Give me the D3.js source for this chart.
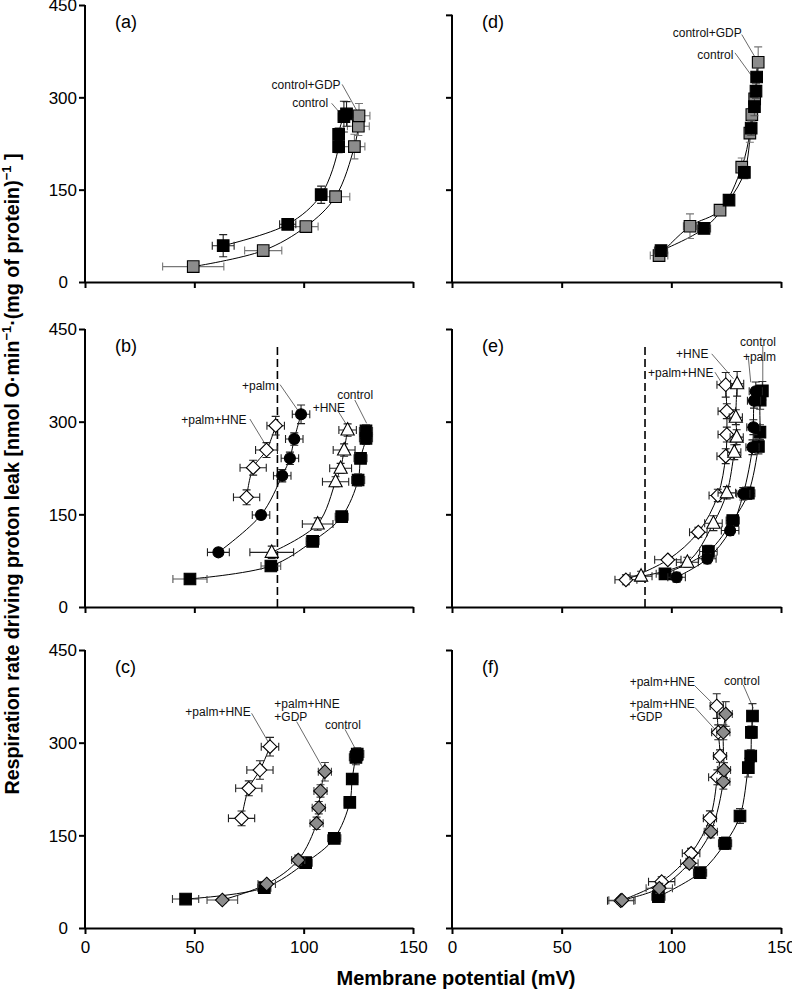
<!DOCTYPE html>
<html><head><meta charset="utf-8">
<script src="https://cdn.jsdelivr.net/npm/d3@7"></script>
<style>
body{margin:0;background:#fff}
svg{display:block}
text{font-family:"Liberation Sans",Arial,Helvetica,sans-serif}
</style>
</head><body>
<svg id="chart" width="792" height="992"></svg>
<script>
// ---------- DATA ----------
// each point: [membrane potential (mV), respiration rate, x error, y error]
const xTicks = [0, 50, 100, 150];
const yTicks = [0, 150, 300, 450];
const panelNames = ["(a)", "(b)", "(c)", "(d)", "(e)", "(f)"];
const xTitle = "Membrane potential (mV)";

// panel (a)
const a_controlGDP = [[49.5,25,14,8],[81.5,51,8.5,5],[101,90,5.6,8],[114.6,138.6,6.5,5],[123.2,220,4.8,20],[125,253,5,15],[125.3,270,5,20]];
const a_control    = [[63.2,59,5,18],[92.7,93.7,3.7,6],[108,141.8,2.5,14],[116,220,2,10],[116,240,2,10],[118.4,268.6,2.5,25],[119.6,273,3,20]];
// panel (d)
const d_controlGDP = [[94.4,43,4,8],[108.5,90.6,3,20],[122.2,116.7,2.5,6],[132.1,186.5,2,15],[135.8,242,1.5,15],[136.7,272,1.5,10],[138,297.5,1.5,10],[139.6,357,2,25]];
const d_control    = [[95.3,51,3,8],[114.9,87,3,5],[126.3,133,2,8],[133.3,178,2,10],[136.4,250,1.5,12],[137.9,285,1.5,15],[138.6,310,1.5,12],[138.9,333,1.5,15]];
// panel (b)
const b_control   = [[48,45.3,7.8,5],[85,66.4,4.5,5],[104.1,106.3,3,8],[117.4,146.2,3,5],[124.9,205.6,3,10],[126,240.7,3,8],[128.5,273,3,10],[128.5,285,3,10]];
const b_HNE       = [[85.4,88.5,10,10],[106.4,134.3,7,10],[114.6,202.8,6,8],[116.9,224.5,5,8],[118.5,254.1,5,10],[120.1,286.5,4,10]];
const b_palm      = [[61,88.5,5,5],[80.5,148.9,4,5],[90.2,212.5,4,10],[93.7,240.7,4,10],[95.7,271.9,4,10],[98.8,311.9,4,15]];
const b_palmHNE   = [[73.9,177.6,6,12],[76.9,225.5,6,12],[83,254.1,5,12],[87.2,293.5,4,15]];
// panel (e)
const e_palmHNE   = [[79.3,44,5,8],[98.4,76.4,6,5],[112.3,121.1,4,8],[121.2,180.5,4,10],[124.8,244.1,4,12],[125.3,279.2,4,12],[125.3,317,4,12],[124.8,359.7,4,20]];
const e_HNE       = [[86.2,49.9,5,8],[107.3,72.5,5,8],[119.2,135.6,4,12],[125.3,184.8,4,10],[128.7,250.6,3,12],[129.8,274.9,3,12],[129.4,307.2,3,12],[130,361.3,3,20]];
const e_control   = [[97.1,53.7,4,8],[116.9,89.8,4,10],[128,140,3,8],[135.1,184.2,3,10],[139.7,259.8,2,12],[140.4,283,2,12],[140.5,335,2,15],[141.5,350,2,15]];
const e_palm      = [[102.4,48.2,4,8],[116.4,78,4,8],[126.8,123.8,4,8],[132.8,183.2,3,10],[137,258.6,3,12],[137.4,291,3,12],[137.7,334,3,12],[138.5,349.3,3,15]];
// panel (c)
const c_control    = [[46,46.9,6,5],[82,65.2,3,5],[100.9,105.7,3,5],[114,145.2,3,8],[121.1,203.4,2.5,8],[122.2,241.2,2.5,8],[123.9,276.3,3,12],[124.5,281.6,3,10]];
const c_palmHNEGDP = [[62.8,45.3,7,5],[83.1,71.2,4,5],[97.5,110,3,8],[105.9,169.5,3,10],[106.9,194.7,3,10],[107.7,221.8,3,10],[109.7,253,3,15]];
const c_palmHNE    = [[71.6,177.5,6,12],[74.9,226.1,6,12],[80,255.7,6,15],[84.6,293.5,4,15]];
// panel (f)
const f_control    = [[94.1,50.7,3,5],[113.1,89.5,3,5],[124.5,137.1,3,10],[131.3,181.3,2,12],[135.1,259.5,2,15],[136.2,278.4,2,10],[136.5,316.8,2,10],[137,343.2,2,20]];
const f_palmHNE    = [[76.9,44.2,6,5],[95.6,75,6,8],[109,120.9,4,8],[117.6,177.6,3,12],[121,244,4,12],[122.2,278.4,3,10],[121.4,316.8,3,12],[120.7,359.3,3,20]];
const f_palmHNEGDP = [[77.5,45,6,5],[94.5,64.3,6,8],[108.2,104.7,4,8],[118,155.9,3,10],[123.7,236.8,3,12],[124,255.7,3,12],[123.7,316.8,3,12],[124.8,346.4,3,20]];

// vertical dashed reference potential (mV)
const refPotential = 88;

// ---------- LAYOUT / STYLE ----------
const GRAY = "#8c8c8c", BLACK = "#000", WHITE = "#fff";
const cols = [[85, 413], [452, 781]];
const rows = [[282, 5], [607, 329], [928, 650]];

const sq = (d, f, e) => ({data: d, shape: "square", fill: f, err: e});
const panels = [
  {col:0,row:0,name:panelNames[0], series:[sq(a_controlGDP,GRAY,"#777"), sq(a_control,BLACK,"#222")],
   labels:[{t:["control+GDP"],x:116.9,y:313.5,a:"end",l:[117.6,321,125,274]},
           {t:["control"],x:111.2,y:284.3,a:"end",l:[112.8,290.3,118.1,268.5]}]},
  {col:0,row:1,name:panelNames[1], dash:true,
   series:[sq(b_control,BLACK,"#555"),{data:b_HNE,shape:"triangle",fill:WHITE,err:"#222"},
           {data:b_palm,shape:"circle",fill:BLACK,err:"#222"},{data:b_palmHNE,shape:"diamond",fill:WHITE,err:"#222"}],
   labels:[{t:["+palm"],x:86.9,y:351.2,a:"end",l:[89.2,360,98.3,313.5]},
           {t:["+palm+HNE"],x:73.9,y:296.2,a:"end",l:[75.4,304.3,83.1,259.5]},
           {t:["+HNE"],x:118.9,y:315.6,a:"end",l:[115.4,318.9,119.7,294.6]},
           {t:["control"],x:131.8,y:336.7,a:"end",l:[123.4,335,128.8,297.3]}]},
  {col:0,row:2,name:panelNames[2],
   series:[sq(c_control,BLACK,"#333"),{data:c_palmHNEGDP,shape:"diamond",fill:GRAY,err:"#444"},
           {data:c_palmHNE,shape:"diamond",fill:WHITE,err:"#222"}],
   labels:[{t:["+palm+HNE"],x:75.8,y:343.2,a:"end",l:[76.2,347.5,84.6,296.2]},
           {t:["+palm+HNE","+GDP"],x:86.6,y:355.5,a:"start",l:[96.8,334,109.7,253]},
           {t:["control"],x:126.2,y:322.1,a:"end",l:[118.9,321.6,123.5,290.9]}]},
  {col:1,row:0,name:panelNames[3], yTop:434,
   series:[sq(d_controlGDP,GRAY,"#777"), sq(d_control,BLACK,"#555")],
   labels:[{t:["control+GDP"],x:132.1,y:398.8,a:"end",l:[132.1,402,138.6,362.6]},
           {t:["control"],x:128.3,y:363,a:"end",l:[129,372.3,136.2,337]}]},
  {col:1,row:1,name:panelNames[4], dash:true,
   series:[{data:e_palmHNE,shape:"diamond",fill:WHITE,err:"#222"},{data:e_HNE,shape:"triangle",fill:WHITE,err:"#222"},
           sq(e_control,BLACK,"#333"),{data:e_palm,shape:"circle",fill:BLACK,err:"#222"}],
   labels:[{t:["control"],x:147.7,y:421.7,a:"end",l:[141.7,423.3,141.7,353.2]},
           {t:["+palm"],x:147.7,y:397.4,a:"end",l:[135.1,404.3,136.2,363.9]},
           {t:["+HNE"],x:116.9,y:403,a:"end",l:[118.4,409.8,128.3,369.4]},
           {t:["+palm+HNE"],x:119.2,y:373.1,a:"end",l:[119.9,380,124,357]}]},
  {col:1,row:2,name:panelNames[5],
   series:[sq(f_control,BLACK,"#333"),{data:f_palmHNE,shape:"diamond",fill:WHITE,err:"#222"},
           {data:f_palmHNEGDP,shape:"diamond",fill:GRAY,err:"#444"}],
   labels:[{t:["+palm+HNE"],x:110.8,y:391.7,a:"end",l:[110.8,391.7,120.7,356.8]},
           {t:["+palm+HNE","+GDP"],x:80.9,y:355.5,a:"start",l:[110.8,356.9,119.9,321.6]},
           {t:["control"],x:140.4,y:393.3,a:"end",l:[132.8,393.3,137.4,355.6]}]}
];

const shapePath = {
  square: "M-5.8,-5.8h11.6v11.6h-11.6Z",
  triangle: "M0,-7.4L6.6,5L-6.6,5Z",
  diamond: "M0,-6.8L6.8,0L0,6.8L-6.8,0Z",
  circle: d3.symbol(d3.symbolCircle, Math.PI * 5.5 * 5.5)()
};

// ---------- DRAW ----------
const svg = d3.select("#chart");
svg.append("rect").attr("width",792).attr("height",992).attr("fill","#fff");

panels.forEach(p => {
  const x = d3.scaleLinear().domain([0,150]).range(cols[p.col]);
  const y = d3.scaleLinear().domain([0,450]).range(rows[p.row]);
  const g = svg.append("g");

  // axes
  const yTop = p.yTop || 450;
  const yAx = d3.axisLeft(y).tickValues(p.yTop ? [0,150,300,yTop] : yTicks).tickSize(6).tickSizeOuter(0)
    .tickFormat(p.col === 0 ? d3.format("d") : "");
  const yg = g.append("g").attr("transform", `translate(${x(0)},0)`).call(yAx);
  yg.select(".domain").attr("d", `M0,${y(0)}V${y(yTop)}`);
  yg.selectAll("line, .domain").attr("stroke","#000").attr("stroke-width",2);
  yg.selectAll("text").attr("font-size",17).attr("fill","#000")
    .attr("x", d => d === 0 ? -17 : -8).attr("dy","0.35em").attr("font-family","Liberation Sans, Arial, sans-serif");

  const xAx = d3.axisBottom(x).tickValues(xTicks).tickSize(6).tickSizeOuter(0)
    .tickFormat(p.row === 2 ? d3.format("d") : "");
  const xg = g.append("g").attr("transform", `translate(0,${y(0)})`).call(xAx);
  xg.selectAll("line, .domain").attr("stroke","#000").attr("stroke-width",2);
  xg.selectAll("text").attr("font-size",17).attr("fill","#000").attr("y",9).attr("dy","0.95em")
    .attr("font-family","Liberation Sans, Arial, sans-serif");

  // panel label
  g.append("text").attr("x", x(13.7)).attr("y", y(413)).attr("font-size",18).text(p.name);

  // dashed line
  if (p.dash) {
    g.append("line").attr("x1",x(refPotential)).attr("x2",x(refPotential))
      .attr("y1",y(0)).attr("y2",y(427)).attr("stroke","#000").attr("stroke-width",1.6)
      .attr("stroke-dasharray","8,4");
  }

  // curves
  const line = d3.line().x(d => x(d[0])).y(d => y(d[1])).curve(d3.curveCatmullRom.alpha(0.5));
  p.series.forEach(s => {
    g.append("path").attr("d", line(s.data)).attr("fill","none").attr("stroke","#000").attr("stroke-width",1);
  });

  // labels and leaders
  p.labels.forEach(lb => {
    g.append("line").attr("x1",x(lb.l[0])).attr("y1",y(lb.l[1])).attr("x2",x(lb.l[2])).attr("y2",y(lb.l[3]))
      .attr("stroke","#444").attr("stroke-width",0.8);
    const t = g.append("text").attr("x",x(lb.x)).attr("y",y(lb.y)).attr("font-size",12)
      .attr("text-anchor",lb.a).attr("fill","#111");
    lb.t.forEach((s,i) => t.append("tspan").attr("x",x(lb.x)).attr("dy", i ? 12.5 : 0).text(s));
  });

  // error bars + markers
  const cap = 4;
  p.series.forEach(s => {
    const eg = g.append("g").attr("stroke", s.err).attr("stroke-width",1.1).attr("fill","none");
    s.data.forEach(d => {
      const cx = x(d[0]), cy = y(d[1]);
      const xl = x(d[0]-d[2]), xr = x(d[0]+d[2]);
      const yt = y(d[1]+d[3]), yb = y(d[1]-d[3]);
      eg.append("path").attr("d",
        `M${xl},${cy}H${xr}M${xl},${cy-cap}V${cy+cap}M${xr},${cy-cap}V${cy+cap}` +
        `M${cx},${yt}V${yb}M${cx-cap},${yt}H${cx+cap}M${cx-cap},${yb}H${cx+cap}`);
    });
    g.append("g").selectAll("path").data(s.data).join("path")
      .attr("d", shapePath[s.shape])
      .attr("transform", d => `translate(${x(d[0])},${y(d[1])})`)
      .attr("fill", s.fill).attr("stroke","#000").attr("stroke-width",1.1);
  });
});

// axis titles
svg.append("text").attr("x",456).attr("y",985).attr("text-anchor","middle")
  .attr("font-size",20).attr("font-weight","bold").text(xTitle);

const yt = svg.append("text").attr("transform","translate(18.5,474) rotate(-90)")
  .attr("text-anchor","middle").attr("font-size",19.7).attr("font-weight","bold");
yt.append("tspan").text("Respiration rate driving proton leak [nmol O\u00B7min");
yt.append("tspan").attr("font-size",13).attr("dy",-8).text("\u22121");
yt.append("tspan").attr("dy",8).text("\u00B7(mg of protein)");
yt.append("tspan").attr("font-size",13).attr("dy",-8).text("\u22121");
yt.append("tspan").attr("dy",8).text(" ]");
</script>
</body></html>
